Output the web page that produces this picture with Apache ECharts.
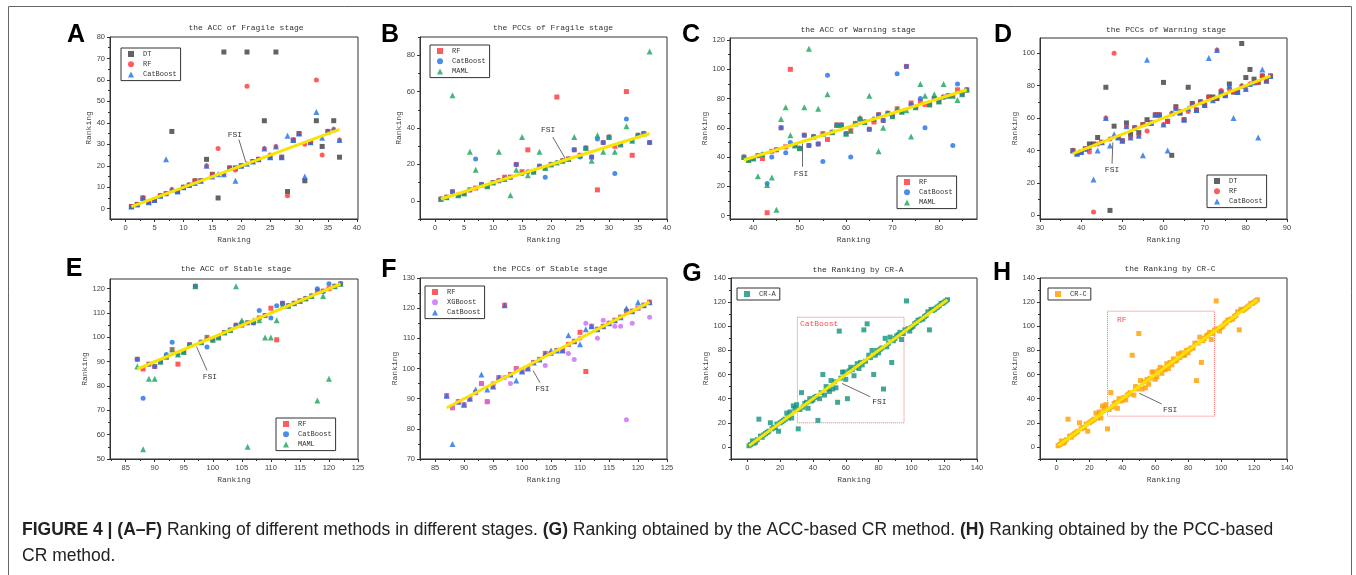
<!DOCTYPE html>
<html><head><meta charset="utf-8">
<script src="https://cdn.jsdelivr.net/npm/echarts@6/dist/echarts.min.js"></script>
<style>html,body{margin:0;padding:0;background:#fff}#c{width:1356px;height:575px}</style>
</head><body><div id="c"></div><script>
// ---------- DATA ----------
const fragRank = [1,2,3,4,5,6,7,8,9,10,11,12,13,14,15,16,17,18,19,20,21,22,23,24,25,26,27,28,29,30,31,32,33,34,35,36,37];
const fragDT   = [1,2,5,3,4,6,7,36,8,10,11,13,13,23,16,5,73,19,19,20,73,22,23,41,24,73,24,8,32,35,13,31,41,29,36,41,24];
const fragRF   = [1,2,5,3,4,6,7,9,8,10,11,13,13,20,16,28,16,19,18,20,57,22,23,28,25,29,24,6,32,35,30,31,60,25,36,37,32];
const fragCat  = [1,2,5,3,4,6,23,9,8,10,11,12,13,20,15,16,16,19,13,20,21,22,23,28,24,29,24,34,32,35,15,31,45,33,36,37,32];
const fragMAML = [1,2,58,3,4,27,17,9,8,10,27,12,3,17,35,14,16,27,18,20,21,22,23,35,25,29,22,36,27,35,27,31,41,33,36,37,82];

const warnRank = [38,39,40,41,42,43,44,45,46,47,48,49,50,51,52,53,54,55,56,57,58,59,60,61,62,63,64,65,66,67,68,69,70,71,72,73,74,75,76,77,78,79,80,81,82,83,84,85,86];
const warnRF   = [40,38,39,41,39,2,44,45,60,47,100,48,46,55,48,54,49,56,52,57,62,62,56,58,63,66,64,59,64,69,65,70,68,73,71,102,77,74,78,76,76,80,78,81,82,82,86,83,86];
const warnCat  = [40,38,39,41,42,22,40,45,60,43,50,48,46,55,48,54,49,37,96,57,62,62,56,40,63,66,64,59,66,69,65,70,68,97,71,102,76,74,80,60,76,80,78,81,82,48,90,83,86];
const warnMAML = [40,38,39,27,42,21,26,4,66,74,55,48,46,74,114,54,73,56,83,57,62,62,56,58,63,67,64,82,66,44,60,70,68,73,71,72,54,74,90,82,76,83,78,90,82,82,79,83,86];
const warnDT   = [40,38,39,41,44,44,48,45,79,3,55,48,46,57,50,54,51,56,59,57,62,62,82,58,37,67,63,59,79,69,65,70,68,73,73,72,76,74,81,76,76,106,85,90,84,82,86,83,86];

const stabRank = [87,88,89,90,91,92,93,94,95,96,97,98,99,100,101,102,103,104,105,106,107,108,109,110,111,112,113,114,115,116,117,118,119,120,121,122];
const stabRF   = [91,87,89,88,90,92,95,89,94,97,121,98,100,99,100,102,103,105,105,106,106,108,109,112,99,114,113,114,115,116,117,119,119,120,121,122];
const stabCat  = [91,75,89,88,90,93,98,93,94,97,121,98,96,99,100,102,103,105,106,106,106,111,109,108,113,114,113,114,115,116,117,120,119,122,121,122];
const stabMAML = [88,54,83,83,90,92,95,93,94,97,121,98,100,99,100,102,103,121,107,55,107,107,100,100,107,113,113,114,115,116,117,74,117,83,121,122];
const stabXGB  = [91,87,89,88,90,92,95,89,95,97,97,95,100,99,100,102,103,101,105,106,106,105,103,110,115,114,110,116,115,114,114,83,115,120,121,117];

const crRank = fragRank.concat(warnRank, stabRank);
const crA = [1,2,5,3,4,6,23,9,8,10,11,12,13,20,15,16,16,19,13,20,21,22,23,28,24,29,24,34,32,35,15,31,45,33,36,37,32,
  40,38,39,41,42,22,40,45,60,43,50,48,46,55,48,54,49,37,96,57,62,62,56,40,63,66,64,59,66,69,65,70,68,97,71,102,76,74,80,60,76,80,78,81,82,48,90,83,86,
  91,70,88,90,92,93,95,89,94,97,121,98,96,99,100,102,103,105,105,106,106,108,109,112,97,114,113,114,115,116,117,119,119,120,121,122];
const crC = [1,2,5,3,4,6,23,9,8,10,11,12,13,20,15,16,16,19,13,20,21,22,23,28,24,29,24,34,32,35,15,31,45,33,36,37,32,
  40,38,39,41,39,43,44,45,76,43,50,48,94,55,48,54,49,56,52,57,62,62,56,58,63,66,61,65,64,69,65,70,68,73,71,72,77,74,78,76,76,80,78,81,82,82,86,55,86,
  91,70,88,90,92,93,95,89,94,97,121,98,96,99,100,102,103,105,105,106,106,108,109,112,97,114,113,114,115,116,117,119,119,120,121,122];

// tick labels
const fragXTicks = [0,5,10,15,20,25,30,35,40];
const accFragYTicks = [0,10,20,30,40,50,60,70,80];
const pccFragYTicks = [0,20,40,60,80];
const accWarnXTicks = [40,50,60,70,80];
const accWarnYTicks = [0,20,40,60,80,100,120];
const pccWarnXTicks = [30,40,50,60,70,80,90];
const pccWarnYTicks = [0,20,40,60,80,100];
const stabXTicks = [85,90,95,100,105,110,115,120,125];
const accStabYTicks = [50,60,70,80,90,100,110,120];
const pccStabYTicks = [70,80,90,100,110,120,130];
const crTicks = [0,20,40,60,80,100,120,140];

const titles = ['the ACC of Fragile stage','the PCCs of Fragile stage','the ACC of Warning stage','the PCCs of Warning stage',
  'the ACC of Stable stage','the PCCs of Stable stage','the Ranking by CR-A','the Ranking by CR-C'];
const letters = ['A','B','C','D','E','F','G','H'];

// ---------- STYLE ----------
const MONO = "'Liberation Mono', 'DejaVu Sans Mono', monospace";
const SANS = "'Liberation Sans', Arial, sans-serif";
const C = {DT:'#3c3c3c', RF:'#ff3434', Cat:'#1f6fe6', MAML:'#19a45c', XGB:'#c86ef0', CRA:'#11927f', CRC:'#ff9c00', FSI:'#f8e400'};
const SYM = {sq:'rect', ci:'circle', tr:'triangle'};

const panels = [
  {box:[110,37,248,182], x:[-2.7,40.2], y:[-4.8,80], xt:fragXTicks, yt:accFragYTicks, rank:fragRank,
   series:[['DT',fragDT,'sq',C.DT],['RF',fragRF,'ci',C.RF],['CatBoost',fragCat,'tr',C.Cat]],
   legend:[121,48], fsiText:[18.9,34.5], arrow:[[19.6,32.2],[20.8,21.6]], title:[246,28], letter:[76,35]},
  {box:[420,37,247,182], x:[-2.6,40], y:[-10,90], xt:fragXTicks, yt:pccFragYTicks, rank:fragRank,
   series:[['RF',fragRF,'sq',C.RF],['CatBoost',fragCat,'ci',C.Cat],['MAML',fragMAML,'tr',C.MAML]],
   legend:[430,45], fsiText:[19.5,38.9], arrow:[[20.3,35],[22.4,23.5]], title:[553,28], letter:[390,35]},
  {box:[730,38,247,181], x:[35,88.2], y:[-2.3,121.4], xt:accWarnXTicks, yt:accWarnYTicks, rank:warnRank,
   series:[['RF',warnRF,'sq',C.RF],['CatBoost',warnCat,'ci',C.Cat],['MAML',warnMAML,'tr',C.MAML]],
   legend:[897,176], fsiText:[50.3,28.6], arrow:[[50.6,33.4],[50.6,49.3]], title:[858,30], letter:[691,35]},
  {box:[1040,38,247,181], x:[30,90], y:[-2.3,109.4], xt:pccWarnXTicks, yt:pccWarnYTicks, rank:warnRank,
   series:[['DT',warnDT,'sq',C.DT],['RF',warnRF,'ci',C.RF],['CatBoost',warnCat,'tr',C.Cat]],
   legend:[1207,175], fsiText:[47.5,27.9], arrow:[[47.5,31.8],[47.7,45]], title:[1166,30], letter:[1003,35]},
  {box:[110,279,248,180], x:[82.3,125], y:[50,124], xt:stabXTicks, yt:accStabYTicks, rank:stabRank,
   series:[['RF',stabRF,'sq',C.RF],['CatBoost',stabCat,'ci',C.Cat],['MAML',stabMAML,'tr',C.MAML]],
   legend:[276,418], fsiText:[99.5,83.6], arrow:[[99,86.4],[97.2,96.2]], title:[236,269], letter:[74,269]},
  {box:[420,278,247,181], x:[82.4,125], y:[70,130], xt:stabXTicks, yt:pccStabYTicks, rank:stabRank,
   series:[['RF',stabRF,'sq',C.RF],['XGBoost',stabXGB,'ci',C.XGB],['CatBoost',stabCat,'tr',C.Cat]],
   legend:[425,286], fsiText:[103.5,93.1], arrow:[[103.1,95.3],[101.9,99.3]], title:[550,269], letter:[389,270]},
  {box:[731,278,246,181], x:[-10,140], y:[-10,140], xt:crTicks, yt:crTicks, rank:crRank,
   series:[['CR-A',crA,'sq',C.CRA]],
   legend:[737,288], fsiText:[80.5,37.2], arrow:[[74.9,41.6],[57.7,52.6]], title:[858,270], letter:[692,274],
   area:{from:[30.5,107.5], to:[95.5,20], text:'CatBoost', offset:[-2,-2]}},
  {box:[1040,278,247,181], x:[-10,140], y:[-10,140], xt:crTicks, yt:crTicks, rank:crRank,
   series:[['CR-C',crC,'sq',C.CRC]],
   legend:[1048,288], fsiText:[69,30.9], arrow:[[63.9,35.6],[50.3,44.5]], title:[1170,269], letter:[1002,273],
   area:{from:[31,112.5], to:[96,25.5], text:'RF', offset:[5,0]}}
];

function minorsOf(t, lo, hi){
  const s = t[1]-t[0], out=[];
  for (let v = t[0]-s/2; v <= t[t.length-1]+s/2; v += s) if (v>=lo && v<=hi) out.push(v);
  return out;
}

const grid=[], xAxis=[], yAxis=[], series=[], legend=[], graphic=[];
const axisLabelStyle = {fontSize:7.5, color:'#444', fontFamily:SANS};

panels.forEach((p,i)=>{
  grid.push({left:p.box[0], top:p.box[1], width:p.box[2], height:p.box[3], show:true, borderColor:'#333', borderWidth:1, backgroundColor:'rgba(0,0,0,0)'});
  const xi = xAxis.length, yi = yAxis.length;
  xAxis.push({type:'value', gridIndex:i, min:p.x[0], max:p.x[1], position:'bottom',
    axisLine:{show:true, onZero:false, lineStyle:{color:'#333', width:1}},
    axisTick:{show:true, customValues:p.xt, length:3, lineStyle:{color:'#333'}},
    axisLabel:{customValues:p.xt, margin:5, ...axisLabelStyle}, splitLine:{show:false},
    name:'Ranking', nameLocation:'middle', nameGap:17, nameTextStyle:{fontFamily:MONO, fontSize:8, color:'#444'}});
  xAxis.push({type:'value', gridIndex:i, min:p.x[0], max:p.x[1], position:'bottom',
    axisLine:{show:false, onZero:false}, axisTick:{show:true, customValues:minorsOf(p.xt,p.x[0],p.x[1]), length:2, lineStyle:{color:'#333'}},
    axisLabel:{show:false}, splitLine:{show:false}});
  yAxis.push({type:'value', gridIndex:i, min:p.y[0], max:p.y[1], position:'left',
    axisLine:{show:true, onZero:false, lineStyle:{color:'#333', width:1}},
    axisTick:{show:true, customValues:p.yt, length:3, lineStyle:{color:'#333'}},
    axisLabel:{customValues:p.yt, margin:5, ...axisLabelStyle}, splitLine:{show:false},
    name:'Ranking', nameLocation:'middle', nameGap: (p.yt[p.yt.length-1] >= 100 ? 17 : 13), nameTextStyle:{fontFamily:MONO, fontSize:8, color:'#444'}});
  yAxis.push({type:'value', gridIndex:i, min:p.y[0], max:p.y[1], position:'left',
    axisLine:{show:false, onZero:false}, axisTick:{show:true, customValues:minorsOf(p.yt,p.y[0],p.y[1]), length:2, lineStyle:{color:'#333'}},
    axisLabel:{show:false}, splitLine:{show:false}});

  p.series.forEach(([name, ys, sym, col], k)=>{
    const s = {type:'scatter', name, xAxisIndex:xi, yAxisIndex:yi,
      data:p.rank.map((x,j)=>[x, ys[j]]), symbol:SYM[sym], symbolSize: sym==='tr'?6:5,
      itemStyle:{color:col}, z:2+k, silent:true};
    if (k===0 && p.area){
      s.markArea = {silent:true, itemStyle:{color:'rgba(0,0,0,0)', borderColor:'#ff6b6b', borderWidth:1, borderType:'dotted'},
        label:{show:true, position:'insideTopLeft', formatter:p.area.text, color:'#ff4d4d', fontFamily:MONO, fontSize:8, offset:p.area.offset},
        data:[[{coord:p.area.from},{coord:p.area.to}]]};
    }
    series.push(s);
  });
  const r0 = p.rank[0], r1 = p.rank[p.rank.length-1];
  series.push({type:'line', xAxisIndex:xi, yAxisIndex:yi, data:[[r0,r0],[r1,r1]], symbol:'none', silent:true,
    lineStyle:{color:C.FSI, width:3}, z:8,
    markLine:{silent:true, symbol:['none','arrow'], symbolSize:[0,5], lineStyle:{color:'#444', width:0.8, type:'solid'}, label:{show:false},
      data:[[{coord:p.arrow[0]},{coord:p.arrow[1]}]]},
    markPoint:{silent:true, symbol:'rect', symbolSize:1, itemStyle:{color:'rgba(0,0,0,0)'},
      label:{show:true, position:'inside', formatter:'FSI', color:'#333', fontFamily:MONO, fontSize:8},
      data:[{coord:p.fsiText}]}});

  const icons = p.series.map(([name,,sym])=>({name, icon:SYM[sym]}));
  legend.push({left:p.legend[0], top:p.legend[1], orient:'vertical', data:icons, itemWidth:6, itemHeight:6, itemGap:2.3,
    padding:[2,4,2,7], borderColor:'#333', borderWidth:1, selectedMode:false,
    textStyle:{fontFamily:MONO, fontSize:7, color:'#333', lineHeight:8, padding:[0,0,0,4]}});

  graphic.push({type:'text', x:p.title[0], y:p.title[1], silent:true,
    style:{text:titles[i], fontFamily:MONO, fontSize:8, fill:'#333', textAlign:'center', textVerticalAlign:'middle', align:'center', verticalAlign:'middle'}});
  graphic.push({type:'text', x:p.letter[0], y:p.letter[1], silent:true,
    style:{text:letters[i], fontFamily:SANS, fontSize:25, fontWeight:'bold', fill:'#000', textAlign:'center', textVerticalAlign:'middle', align:'center', verticalAlign:'middle'}});
});

graphic.push({type:'rect', silent:true, shape:{x:8.5, y:6.5, width:1343, height:620}, style:{fill:'none', stroke:'#666', lineWidth:1}});
graphic.push({type:'text', x:22, y:530, silent:true, style:{
  text:'{b|FIGURE 4 | (A–F)} Ranking of different methods in different stages. {b|(G)} Ranking obtained by the ACC-based CR method. {b|(H)} Ranking obtained by the PCC-based',
  fontFamily:SANS, fontSize:17.5, fill:'#222', textVerticalAlign:'middle', verticalAlign:'middle',
  rich:{b:{fontFamily:SANS, fontSize:17.5, fontWeight:'bold', fill:'#222'}}}});
graphic.push({type:'text', x:22, y:556, silent:true, style:{text:'CR method.', fontFamily:SANS, fontSize:17.5, fill:'#222', textVerticalAlign:'middle', verticalAlign:'middle'}});

const chart = echarts.init(document.getElementById('c'));
chart.setOption({animation:false, backgroundColor:'#fff', grid, xAxis, yAxis, series, legend, graphic});
</script></body></html>
